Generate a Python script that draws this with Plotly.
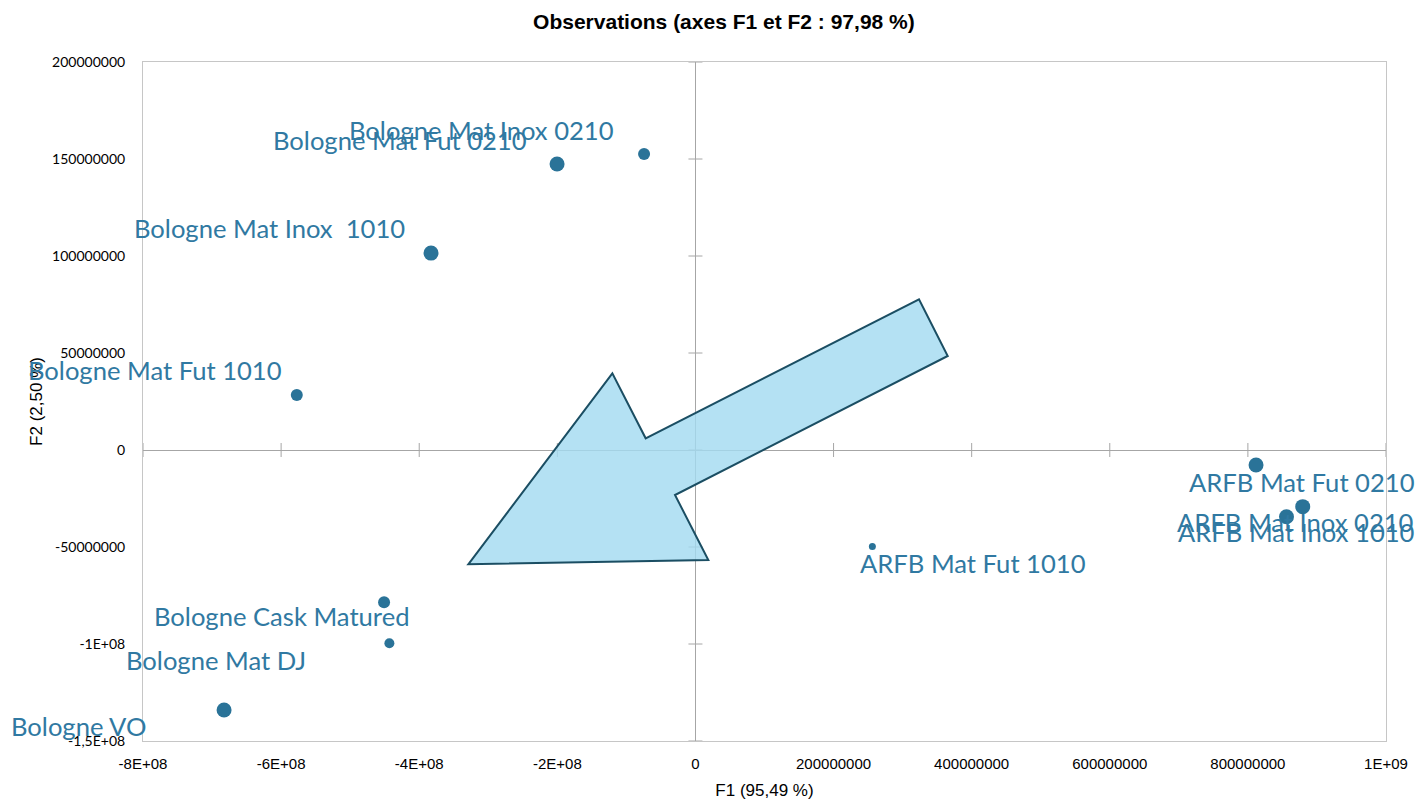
import plotly.graph_objects as go

# ---- data ----
names = ["Bologne Mat Inox 0210", "Bologne Mat Fut 0210", "Bologne Mat Inox  1010",
         "Bologne Mat Fut 1010", "Bologne Cask Matured", "Bologne Mat DJ", "Bologne VO",
         "ARFB Mat Fut 1010", "ARFB Mat Fut 0210", "ARFB Mat Inox 0210", "ARFB Mat Inox 1010"]
f1 = [-7.44e7, -2.004e8, -3.829e8, -5.773e8, -4.509e8, -4.432e8, -6.826e8,
      2.562e8, 8.118e8, 8.794e8, 8.559e8]
f2 = [1.526e8, 1.474e8, 1.015e8, 2.84e7, -7.85e7, -9.96e7, -1.340e8,
      -4.98e7, -7.7e6, -2.92e7, -3.44e7]
weights = [12, 15, 15, 12, 12, 10, 15, 7, 15, 15, 15]

x_tickvals = [-8e8, -6e8, -4e8, -2e8, 0, 2e8, 4e8, 6e8, 8e8, 1e9]
x_ticktext = ["-8E+08", "-6E+08", "-4E+08", "-2E+08", "0", "200000000", "400000000",
              "600000000", "800000000", "1E+09"]
y_tickvals = [-1.5e8, -1e8, -5e7, 0, 5e7, 1e8, 1.5e8, 2e8]
y_ticktext = ["-1,5E+08", "-1E+08", "-50000000", "0", "50000000", "100000000",
              "150000000", "200000000"]

# label offsets (px) from point to label centre
label_dx = [-163, -157, -162, -142, -103, -173, -146, 101, 46, -7, 10]
label_dy = [-24, -24, -25, -25, 14, 17, 16, 16, 17, 15, 15]

# decorative arrow outline (paper coords of the plot area)
arrow_x = [0.2617, 0.3776, 0.4044, 0.6243, 0.6474, 0.4280, 0.4548]
arrow_y = [0.2602, 0.5415, 0.4458, 0.6505, 0.5670, 0.3623, 0.2666]

DOT = "#2A7398"
TXT = "#3079A2"
GRID = "#A6A6A6"

W, H = 1416, 794  # page body has an 8px margin

fig = go.Figure()

# tick crosses on the zero lines
fig.add_trace(go.Scatter(x=[0] * len(y_tickvals), y=y_tickvals, mode="markers",
                         marker=dict(symbol="line-ew", size=10, line=dict(color=GRID, width=1)),
                         hoverinfo="skip", showlegend=False))
fig.add_trace(go.Scatter(x=x_tickvals, y=[0] * len(x_tickvals), mode="markers",
                         marker=dict(symbol="line-ns", size=10, line=dict(color=GRID, width=1)),
                         hoverinfo="skip", showlegend=False))

fig.add_trace(go.Scatter(x=f1, y=f2, mode="markers", text=names,
                         marker=dict(color=DOT, size=weights, opacity=1, line=dict(width=0)),
                         showlegend=False))

for n, x, y, dx, dy in zip(names, f1, f2, label_dx, label_dy):
    fig.add_annotation(x=x, y=y, text=n, showarrow=False, xshift=dx, yshift=-dy,
                       font=dict(family="Lato", size=25.6, color=TXT),
                       xanchor="center", yanchor="middle")

path = "M " + " L ".join(f"{a},{b}" for a, b in zip(arrow_x, arrow_y)) + " Z"
fig.add_shape(type="path", path=path, xref="paper", yref="paper",
              fillcolor="rgba(163,219,240,0.82)", line=dict(color="#1B4E63", width=2),
              layer="above")

fig.update_layout(
    width=W, height=H,
    paper_bgcolor="white", plot_bgcolor="white",
    margin=dict(l=135, r=38, t=54, b=61, autoexpand=False),
    title=dict(text="<b>Observations (axes F1 et F2 : 97,98 %)</b>", x=0.5056, xanchor="center",
               yref="container", y=(H - 14) / H, yanchor="middle",
               font=dict(family="Liberation Sans", size=21, color="black")),
    xaxis=dict(range=[-8e8, 1e9], tickvals=x_tickvals, ticktext=x_ticktext,
               showgrid=False, zeroline=True, zerolinecolor=GRID, zerolinewidth=1,
               showline=True, linecolor="#C6C6C6", linewidth=1, mirror=True,
               ticks="", ticklabelstandoff=9, automargin=False,
               tickfont=dict(family="Liberation Sans Narrow, Liberation Sans", size=15, color="black"),
               title=dict(text="F1 (95,49 %)", standoff=13,
                          font=dict(family="Liberation Sans Narrow, Liberation Sans", size=17, color="black"))),
    yaxis=dict(range=[-1.5e8, 2e8], tickvals=y_tickvals, ticktext=y_ticktext,
               showgrid=False, zeroline=True, zerolinecolor=GRID, zerolinewidth=1,
               showline=True, linecolor="#C6C6C6", linewidth=1, mirror=True,
               ticks="", ticklabelstandoff=14, automargin=False,
               tickfont=dict(family="Lato", size=14, color="black"),
               title=dict(text="F2 (2,50 %)", standoff=5,
                          font=dict(family="Liberation Sans Narrow, Liberation Sans", size=17, color="black"))),
)

fig.write_html("out.html")
